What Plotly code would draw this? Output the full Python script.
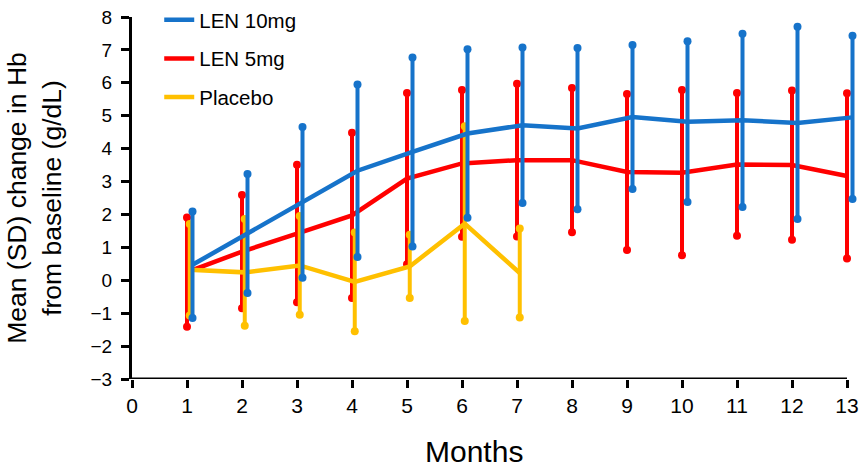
import plotly.graph_objects as go

months = [1, 2, 3, 4, 5, 6, 7, 8, 9, 10, 11, 12, 13]
x_ticks = list(range(0, 14))
y_ticks = list(range(-3, 9))

len10_mean = [0.47, 1.42, 2.37, 3.33, 3.90, 4.46, 4.71, 4.61, 4.96, 4.82, 4.86, 4.78, 4.95]
len10_sd = [1.62, 1.81, 2.29, 2.62, 2.87, 2.56, 2.36, 2.45, 2.19, 2.44, 2.63, 2.92, 2.48]

len5_mean = [0.25, 0.87, 1.42, 1.97, 3.09, 3.55, 3.65, 3.65, 3.29, 3.27, 3.52, 3.50, 3.17]
len5_sd = [1.66, 1.72, 2.09, 2.51, 2.60, 2.23, 2.32, 2.19, 2.37, 2.51, 2.17, 2.27, 2.51]

placebo_months = [1, 2, 3, 4, 5, 6, 7]
placebo_mean = [0.32, 0.24, 0.45, -0.05, 0.42, 1.72, 0.22]
placebo_sd = [1.39, 1.62, 1.50, 1.50, 0.96, 2.96, 1.35]

series = [
    # name, months, mean, sd, color, x offset (dodge), legend rank
    ("LEN 5mg", months, len5_mean, len5_sd, "#FF0000", 0.0, 2),
    ("Placebo", placebo_months, placebo_mean, placebo_sd, "#FFC000", 0.05, 3),
    ("LEN 10mg", months, len10_mean, len10_sd, "#1673CA", 0.10, 1),
]

FONT = "Liberation Sans, Arial, sans-serif"
fig = go.Figure()

for name, xs, mean, sd, color, dx, rank in series:
    xd = [x + dx for x in xs]
    ends_x = xd + xd
    ends_y = [m + s for m, s in zip(mean, sd)] + [m - s for m, s in zip(mean, sd)]
    fig.add_trace(go.Scatter(
        x=xd, y=mean, mode="lines", name=name,
        line=dict(color=color, width=4.5),
        error_y=dict(type="data", array=sd, visible=True, color=color,
                     thickness=4, width=0),
        legendgroup=name, legendrank=rank, cliponaxis=False,
    ))
    fig.add_trace(go.Scatter(
        x=ends_x, y=ends_y, mode="markers", showlegend=False,
        marker=dict(color=color, size=8), legendgroup=name,
        hoverinfo="skip", cliponaxis=False,
    ))

fig.add_shape(type="line", xref="x", yref="y", x0=0, x1=13, y0=-3, y1=-3,
              line=dict(color="black", width=3))

fig.add_annotation(text="Months", xref="paper", yref="paper",
                   x=0.471, y=-0.199, xanchor="center", yanchor="middle",
                   showarrow=False, borderpad=0,
                   font=dict(size=30, family=FONT))

fig.update_layout(
    width=861, height=471,
    margin=dict(l=132, r=3, t=17, b=92, autoexpand=False),
    paper_bgcolor="white", plot_bgcolor="white",
    font=dict(family=FONT, color="black"),
    showlegend=True,
    legend=dict(x=0.0375, y=1.047, xanchor="left", yanchor="top",
                font=dict(size=20.5, family=FONT), tracegroupgap=9,
                bgcolor="rgba(0,0,0,0)"),
    xaxis=dict(
        range=[0, 13.2], tickmode="array", tickvals=x_ticks,
        ticktext=[str(v) for v in x_ticks],
        showline=False, showgrid=False, zeroline=False,
        ticks="outside", ticklen=8, tickwidth=3, tickcolor="black",
        tickfont=dict(size=21),
    ),
    yaxis=dict(
        range=[-3, 8], tickmode="array", tickvals=y_ticks,
        showline=True, linewidth=3, linecolor="black",
        showgrid=False, zeroline=False,
        ticks="outside", ticklen=8, tickwidth=3, tickcolor="black",
        tickfont=dict(size=19), ticklabelstandoff=5,
        title=dict(text="Mean (SD) change in Hb<br>from baseline (g/dL)",
                   font=dict(size=26.5), standoff=22),
    ),
)

fig.write_html("out.html")
